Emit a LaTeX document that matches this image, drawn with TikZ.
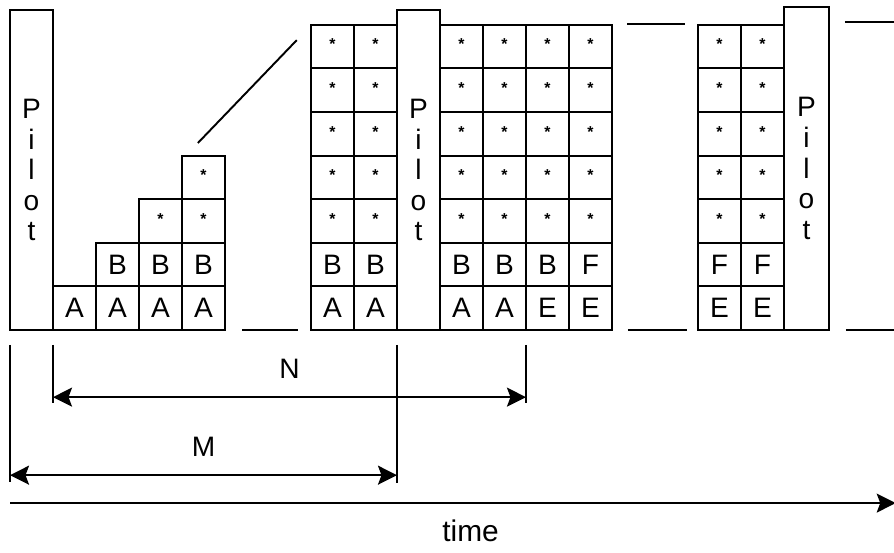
\documentclass[tikz,border=0pt]{standalone}
\usepackage{fontspec}
\setmainfont{Liberation Sans}
\usetikzlibrary{arrows.meta}

\newcommand{\slotlabel}[1]{\if s#1\raisebox{2.5pt}{\fontsize{9}{9}\selectfont\bfseries *}\else #1\fi}

\tikzset{
  cell/.style={draw, line width=1.1pt, minimum width=0.86cm, minimum height=0.872cm,
    inner sep=0pt, outer sep=0pt},
  pilot/.style={draw, line width=1.2pt, minimum width=0.86cm, minimum height=6.4cm,
    inner sep=0pt, outer sep=0pt, align=center, anchor=south west,
    font=\fontsize{16}{17.4}\selectfont},
  dim/.style={line width=1.1pt, {Stealth[length=0.38cm, width=0.38cm, inset=0.07cm]}-{Stealth[length=0.38cm, width=0.38cm, inset=0.07cm]}},
  tick/.style={line width=1.1pt},
}

\begin{document}
\begin{tikzpicture}[x=0.86cm, y=0.872cm, every node/.style={font=\fontsize{16}{18}\selectfont}]
  \useasboundingbox (-0.233,-5.11) rectangle (20.56,7.57);

  \node[pilot] (pilot1) at (0,0) {P\\i\\l\\o\\t};
  \node[pilot] (pilot2) at (9,0) {P\\i\\l\\o\\t};
  \node[pilot, minimum width=0.9cm, minimum height=6.46cm] (pilot3) at (18,0) {P\\i\\l\\o\\t};

  \foreach \c/\labs in {1/{A}, 2/{A,B}, 3/{A,B,s}, 4/{A,B,s,s},
      7/{A,B,s,s,s,s,s}, 8/{A,B,s,s,s,s,s},
      10/{A,B,s,s,s,s,s}, 11/{A,B,s,s,s,s,s}, 12/{E,B,s,s,s,s,s}, 13/{E,F,s,s,s,s,s},
      16/{E,F,s,s,s,s,s}, 17/{E,F,s,s,s,s,s}} {
    \foreach \lab [count=\r from 0] in \labs {
      \node[cell] (c\c-\r) at (\c+0.5,\r+0.5) {\slotlabel{\lab}};
    }
  }

  \draw[line width=1.1pt] (4.37,4.29) -- (6.67,6.65);

  \draw[line width=1.1pt] (5.4,0) -- (6.7,0);
  \draw[line width=1.1pt] (14.37,0) -- (15.74,0);
  \draw[line width=1.1pt] (19.44,0) -- (20.56,0);
  \draw[line width=1.1pt] (14.35,7.02) -- (15.7,7.02);
  \draw[line width=1.1pt] (19.42,7.06) -- (20.56,7.06);

  \coordinate (m0) at (0,-3.49);
  \coordinate (m1) at (9,-3.51);
  \coordinate (n0) at (1,-1.67);
  \coordinate (n1) at (12,-1.67);
  \draw[tick] (0,-0.34) -- (m0);
  \draw[tick] (9,-0.34) -- (m1);
  \draw[tick] (1,-0.34) -- (n0);
  \draw[tick] (12,-0.34) -- (n1);

  \draw[dim] (1,-1.54) -- node[above=0.24cm] (nlab) {N} (12,-1.54);
  \draw[dim] (0,-3.33) -- node[above=0.24cm] (mlab) {M} (9,-3.33);

  \coordinate (t0) at (0,-3.97);
  \coordinate (t1) at (20.6,-3.97);
  \draw[line width=1.1pt, -{Stealth[length=0.38cm, width=0.38cm, inset=0.07cm]}] (t0) -- node[pos=0.52, below=0.2cm, font=\fontsize{17}{19}\selectfont] (tlab) {time} (t1);
\end{tikzpicture}
\end{document}
